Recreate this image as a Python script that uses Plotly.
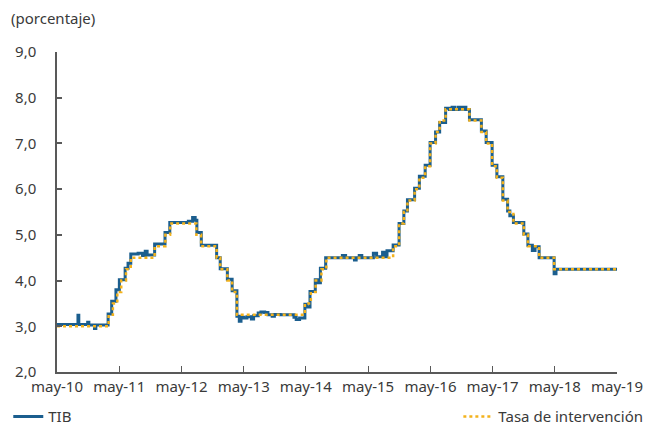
import plotly.graph_objects as go

# Tick labels (x axis)
tick_dates = ["2010-05-01", "2011-05-01", "2012-05-01", "2013-05-01", "2014-05-01",
              "2015-05-01", "2016-05-01", "2017-05-01", "2018-05-01", "2019-05-01"]
tick_labels = ["may-10", "may-11", "may-12", "may-13", "may-14",
               "may-15", "may-16", "may-17", "may-18", "may-19"]

# Tasa de intervención (policy rate) - change dates and levels
policy_dates = ["2010-05-01", "2011-02-28", "2011-03-25", "2011-04-20", "2011-05-13", "2011-06-10",
                "2011-07-08", "2011-11-25", "2012-01-27", "2012-02-24", "2012-07-27", "2012-08-24",
                "2012-11-23", "2012-12-14", "2013-01-25", "2013-02-22", "2013-03-22", "2014-04-25",
                "2014-05-30", "2014-06-27", "2014-07-31", "2014-08-29", "2015-09-25", "2015-10-30",
                "2015-11-27", "2015-12-18", "2016-01-29", "2016-02-26", "2016-03-31", "2016-04-29",
                "2016-05-31", "2016-06-24", "2016-07-29", "2016-12-16", "2017-02-24", "2017-03-24",
                "2017-04-28", "2017-05-26", "2017-06-30", "2017-07-28", "2017-08-31", "2017-10-31",
                "2017-11-24", "2018-01-29", "2018-04-27", "2019-05-01"]
policy_values = [3.00, 3.25, 3.50, 3.75, 4.00, 4.25,
                 4.50, 4.75, 5.00, 5.25, 5.00, 4.75,
                 4.50, 4.25, 4.00, 3.75, 3.25, 3.50,
                 3.75, 4.00, 4.25, 4.50, 4.75, 5.25,
                 5.50, 5.75, 6.00, 6.25, 6.50, 7.00,
                 7.25, 7.50, 7.75, 7.50, 7.25, 7.00,
                 6.50, 6.25, 5.75, 5.50, 5.25, 5.00,
                 4.75, 4.50, 4.25, 4.25]

# TIB (interbank rate) - estimated readings
tib_dates = ["2010-05-01", "2010-09-01", "2010-09-06", "2010-10-28", "2010-11-04", "2010-12-07",
             "2010-12-15", "2011-02-25", "2011-03-18", "2011-04-12", "2011-05-02", "2011-06-05",
             "2011-06-22", "2011-07-08", "2011-08-20", "2011-09-15", "2011-10-01", "2011-10-12",
             "2011-11-25", "2012-01-25", "2012-02-22", "2012-06-10", "2012-07-05", "2012-07-20",
             "2012-07-30", "2012-08-25", "2012-11-23", "2012-12-14", "2013-01-25", "2013-02-22",
             "2013-03-22", "2013-04-05", "2013-04-15", "2013-05-01", "2013-05-20", "2013-06-15",
             "2013-06-28", "2013-07-25", "2013-08-10", "2013-09-01", "2013-09-20", "2013-10-15",
             "2013-10-28", "2013-12-01", "2014-02-20", "2014-03-05", "2014-03-25", "2014-04-25",
             "2014-05-05", "2014-05-25", "2014-06-25", "2014-07-10", "2014-07-25", "2014-08-25",
             "2014-12-01", "2014-12-20", "2015-02-10", "2015-02-20", "2015-03-10", "2015-03-25",
             "2015-06-01", "2015-06-20", "2015-07-25", "2015-08-10", "2015-08-20", "2015-09-25",
             "2015-10-30", "2015-11-27", "2015-12-18", "2016-01-29", "2016-02-26", "2016-03-31",
             "2016-04-29", "2016-05-31", "2016-06-24", "2016-07-29", "2016-08-20", "2016-09-05",
             "2016-09-20", "2016-10-10", "2016-10-25", "2016-11-10", "2016-11-25", "2016-12-16",
             "2017-02-24", "2017-03-24", "2017-04-28", "2017-05-26", "2017-06-30", "2017-07-28",
             "2017-08-10", "2017-08-31", "2017-10-31", "2017-11-24", "2017-12-20", "2018-01-05",
             "2018-01-29", "2018-04-27", "2018-05-08", "2019-05-01"]
tib_values = [3.04, 3.24, 3.04, 3.09, 3.03, 2.95,
              3.03, 3.27, 3.55, 3.80, 4.02, 4.27,
              4.38, 4.58, 4.60, 4.55, 4.64, 4.56,
              4.80, 5.05, 5.27, 5.30, 5.38, 5.32,
              5.05, 4.77, 4.50, 4.26, 4.03, 3.78,
              3.22, 3.11, 3.20, 3.18, 3.21, 3.16,
              3.23, 3.29, 3.31, 3.30, 3.25, 3.22,
              3.26, 3.25, 3.20, 3.15, 3.18, 3.48,
              3.42, 3.76, 4.02, 3.95, 4.27, 4.50,
              4.55, 4.50, 4.45, 4.50, 4.55, 4.50,
              4.60, 4.52, 4.62, 4.52, 4.65, 4.78,
              5.25, 5.52, 5.77, 6.02, 6.28, 6.52,
              7.02, 7.25, 7.46, 7.77, 7.74, 7.79,
              7.74, 7.79, 7.75, 7.79, 7.74, 7.52,
              7.27, 7.02, 6.52, 6.27, 5.78, 5.52,
              5.42, 5.27, 5.02, 4.77, 4.66, 4.74,
              4.50, 4.15, 4.25, 4.25]

FONT = "Noto Sans"
TXT = "#3a3a3a"
AX = "#595959"

fig = go.Figure()
fig.add_trace(go.Scatter(
    x=tib_dates, y=tib_values, name="TIB", mode="lines", line_shape="hv",
    line=dict(color="#1b5e8e", width=3), legend="legend"))
fig.add_trace(go.Scatter(
    x=policy_dates, y=policy_values, name="Tasa de intervención", mode="lines", line_shape="hv",
    line=dict(color="#f3b21c", width=2.5, dash="3px,3px"), legend="legend2"))

fig.update_layout(
    width=646, height=426,
    margin=dict(l=57, r=29, t=52, b=54, autoexpand=False),
    paper_bgcolor="white", plot_bgcolor="white",
    separators=",.",
    font=dict(family=FONT, size=15, color=TXT),
    showlegend=True,
    legend=dict(x=-0.087, y=-0.14, xanchor="left", yanchor="middle",
                orientation="h", bgcolor="rgba(0,0,0,0)", font=dict(size=15, color=TXT)),
    legend2=dict(x=1.056, y=-0.14, xanchor="right", yanchor="middle",
                 orientation="h", bgcolor="rgba(0,0,0,0)", font=dict(size=15, color=TXT)),
    annotations=[dict(text="(porcentaje)", xref="paper", yref="paper",
                      x=-0.085, y=1.0, xanchor="left", yanchor="bottom", yshift=22,
                      showarrow=False, font=dict(size=15, color=TXT))],
)
fig.update_xaxes(
    type="date", range=["2010-05-01", "2019-05-01"],
    tickvals=tick_dates, ticktext=tick_labels, tickangle=0,
    showgrid=False, zeroline=False, automargin=False,
    showline=True, linecolor=AX, linewidth=1.5,
    ticks="inside", ticklen=6, tickcolor=AX, tickwidth=1,
)
fig.update_yaxes(
    range=[2, 9], dtick=1, tickformat=".1f",
    showgrid=False, zeroline=False, automargin=False,
    showline=True, linecolor=AX, linewidth=1.5,
    ticks="inside", ticklen=5, tickcolor=AX, tickwidth=1.5,
    ticklabelstandoff=16,
)

fig.write_html("out.html", config={"displayModeBar": False},
               post_script="document.body.style.margin='0';document.body.style.overflow='hidden';")
